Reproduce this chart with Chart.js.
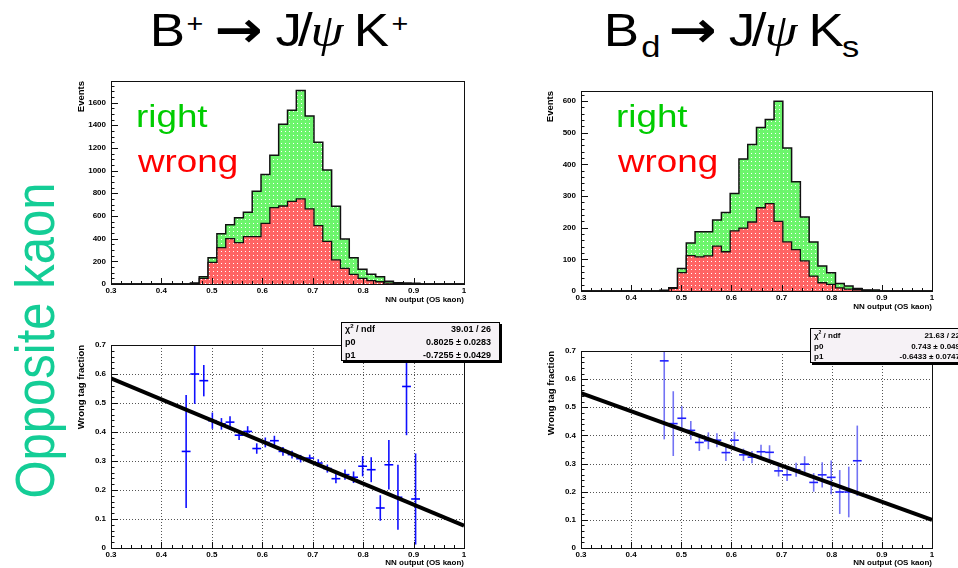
<!DOCTYPE html>
<html>
<head>
<meta charset="utf-8">
<title>Opposite kaon tagger: NN output and wrong tag fraction</title>
<script src="https://cdn.jsdelivr.net/npm/chart.js@4.4.1/dist/chart.umd.min.js"></script>
<style>
  html, body { margin: 0; padding: 0; background: #fff; }
  body { position: relative; width: 958px; height: 568px; overflow: hidden;
         font-family: "Liberation Sans", Arial, Helvetica, sans-serif; }
  canvas { position: absolute; }
  .ttl { position: absolute; top: 0; height: 70px; width: 240px;
         transform: scaleX(1.15); transform-origin: 0 0; }
  .ttl span { position: absolute; white-space: nowrap; line-height: 1; color: #000; }
  .big { font-size: 46px; }
  .sup { font-size: 25px; }
  .sub { font-size: 30px; }
  .arr { font-family: "DejaVu Sans", sans-serif; font-weight: bold; font-size: 50px; }
  .psi { font-family: "Liberation Serif", serif; font-style: italic; font-size: 46px; }
  .tag { position: absolute; font-size: 32px; line-height: 1; white-space: nowrap;
         transform: scaleX(1.15); transform-origin: 0 0; }
  .right { color: #00cc00; }
  .wrong { color: #ff0000; }
  #side { position: absolute; left: -165.4px; top: 316px; width: 400px; height: 49px;
          font-size: 49px; line-height: 1; text-align: center; white-space: nowrap;
          color: #14cd96; transform-origin: 50% 50%;
          transform: scaleX(1.15) rotate(-90deg); }
</style>
</head>
<body>

<div class="ttl" style="left:154px">
  <span class="big" style="left:-3.7px;top:7.1px">B</span>
  <span class="sup" style="left:28.3px;top:11.1px">+</span>
  <span class="arr" style="left:52.5px;top:4.7px">→</span>
  <span class="big" style="left:105.7px;top:7.1px">J</span>
  <span class="big" style="left:125.2px;top:7.1px">/</span>
  <span class="psi" style="left:136px;top:7.5px">ψ</span>
  <span class="big" style="left:173.7px;top:7.1px">K</span>
  <span class="sup" style="left:206.5px;top:11.1px">+</span>
</div>

<div class="ttl" style="left:608px">
  <span class="big" style="left:-3.7px;top:7.1px">B</span>
  <span class="sub" style="left:29px;top:31.8px">d</span>
  <span class="arr" style="left:52.5px;top:4.7px">→</span>
  <span class="big" style="left:105px;top:7.1px">J</span>
  <span class="big" style="left:125px;top:7.1px">/</span>
  <span class="psi" style="left:136px;top:7.5px">ψ</span>
  <span class="big" style="left:174.3px;top:7.1px">K</span>
  <span class="sub" style="left:203.5px;top:31.8px">s</span>
</div>

<div id="side">Opposite kaon</div>

<canvas id="histBplus" width="420" height="245" style="left:60px;top:70px"></canvas>
<canvas id="histBd" width="428" height="235" style="left:530px;top:80px"></canvas>
<canvas id="wtfBplus" width="450" height="253" style="left:60px;top:315px"></canvas>
<canvas id="wtfBd" width="428" height="253" style="left:530px;top:315px"></canvas>

<div class="tag right" style="left:135.6px;top:99.9px">right</div>
<div class="tag wrong" style="left:137.6px;top:144.9px">wrong</div>
<div class="tag right" style="left:615.6px;top:99.9px">right</div>
<div class="tag wrong" style="left:617.6px;top:144.9px">wrong</div>

<script>
// ---- NN output binning: 40 bins between 0.3 and 1.0 ----
const nnBinStart = 0.3;
const nnBinWidth = 0.0175;

// B+ -> J/psi K+ : events per NN-output bin
const bplusRight = [0, 0, 0, 0, 0, 0, 0, 0, 0,
  8, 65, 232, 444, 523, 585, 632, 818, 965, 1135, 1409, 1532, 1706, 1482, 1250, 1006,
  685, 397, 232, 130, 85, 65, 25, 12, 8, 6,
  0, 0, 0, 0, 0];
const bplusWrong = [0, 0, 0, 0, 0, 0, 0, 0, 0,
  3, 50, 190, 320, 400, 365, 418, 418, 535, 673, 688, 729, 750, 662, 515, 376,
  212, 138, 85, 50, 30, 20, 8, 4, 2, 2,
  0, 0, 0, 0, 0];

// Bd -> J/psi Ks : events per NN-output bin
const bdRight = [0, 0, 0, 0, 0, 0, 0, 0, 0,
  2, 10, 71, 152, 187, 187, 224, 248, 308, 417, 463, 517, 542, 600, 452, 345,
  234, 155, 79, 58, 24, 16, 8, 3, 3,
  0, 0, 0, 0, 0, 0];
const bdWrong = [0, 0, 0, 0, 0, 0, 0, 0, 0,
  0, 8, 58, 112, 108, 111, 142, 124, 190, 199, 218, 263, 276, 220, 155, 131,
  95, 47, 26, 21, 10, 6, 4, 2, 0,
  0, 0, 0, 0, 0, 0];

// Wrong tag fraction versus NN output
const bplusNN  = [0.449, 0.466, 0.484, 0.501, 0.519, 0.536, 0.554, 0.571, 0.589, 0.606,
  0.624, 0.641, 0.659, 0.676, 0.694, 0.711, 0.729, 0.746, 0.764, 0.781,
  0.799, 0.816, 0.834, 0.851, 0.869, 0.886, 0.904];
const bplusWTF = [0.333, 0.600, 0.577, 0.439, 0.428, 0.434, 0.389, 0.402, 0.343, 0.364,
  0.370, 0.333, 0.322, 0.308, 0.310, 0.293, 0.274, 0.239, 0.253, 0.244,
  0.282, 0.270, 0.138, 0.287, 0.175, 0.557, 0.169];
const bplusWTFErr = [0.195, 0.103, 0.054, 0.028, 0.020, 0.020, 0.017, 0.018, 0.018, 0.017,
  0.017, 0.015, 0.013, 0.013, 0.012, 0.013, 0.014, 0.016, 0.018, 0.020,
  0.035, 0.043, 0.044, 0.085, 0.112, 0.168, 0.157];

const bdNN  = [0.466, 0.484, 0.501, 0.519, 0.536, 0.554, 0.571, 0.589, 0.606, 0.624,
  0.641, 0.659, 0.676, 0.694, 0.711, 0.729, 0.746, 0.764, 0.781, 0.799,
  0.816, 0.834, 0.851];
const bdWTF = [0.665, 0.442, 0.461, 0.418, 0.375, 0.381, 0.383, 0.339, 0.383, 0.331,
  0.323, 0.342, 0.340, 0.274, 0.260, 0.278, 0.298, 0.233, 0.260, 0.251,
  0.199, 0.199, 0.310];
const bdWTFErr = [0.279, 0.115, 0.043, 0.033, 0.030, 0.030, 0.025, 0.030, 0.030, 0.022,
  0.022, 0.025, 0.025, 0.020, 0.022, 0.025, 0.028, 0.033, 0.045, 0.060,
  0.078, 0.090, 0.125];
const nnHalfBin = 0.00875;

// Straight-line fit results (p0 + p1 * x)
const bplusP0 = 0.8025, bplusP1 = -0.7255;
const bdP0 = 0.743, bdP1 = -0.6433;
const statLabels = ['χ2 / ndf', 'p0', 'p1'];
const bplusStatValues = ['39.01 / 26', '0.8025 ± 0.0283', '-0.7255 ± 0.0429'];
const bdStatValues = ['21.63 / 22', '0.743 ± 0.049', '-0.6433 ± 0.0747'];

// Axis ticks
const nnTicks = [0.3, 0.4, 0.5, 0.6, 0.7, 0.8, 0.9, 1.0];
const nnTickLabels = ['0.3', '0.4', '0.5', '0.6', '0.7', '0.8', '0.9', '1'];
const bplusEventTicks = [0, 200, 400, 600, 800, 1000, 1200, 1400, 1600];
const bdEventTicks = [0, 100, 200, 300, 400, 500, 600];
const wtfTicks = [0, 0.1, 0.2, 0.3, 0.4, 0.5, 0.6, 0.7];
const wtfTickLabels = ['0', '0.1', '0.2', '0.3', '0.4', '0.5', '0.6', '0.7'];

// ---------------------------------------------------------------
const FAMILY = '"Liberation Sans", Arial, Helvetica, sans-serif';

function histPoints(counts) {
  const pts = counts.map((c, k) => ({ x: nnBinStart + nnBinWidth * k, y: c }));
  pts.push({ x: nnBinStart + nnBinWidth * counts.length, y: counts[counts.length - 1] });
  return pts;
}

// Dotted area fill in the manner of ROOT fill styles
function dotFill(canvasId, base, dot) {
  const tile = document.createElement('canvas');
  tile.width = 4; tile.height = 4;
  const g = tile.getContext('2d');
  g.fillStyle = base; g.fillRect(0, 0, 4, 4);
  g.fillStyle = dot;
  g.fillRect(1, 1, 1, 1);
  return document.getElementById(canvasId).getContext('2d').createPattern(tile, 'repeat');
}

// Frame, inward tick marks and optional dotted grid, ROOT style
const rootFrame = {
  id: 'rootFrame',
  beforeDatasetsDraw(chart, args, o) {
    if (!o.grid) return;
    const { ctx, chartArea: a, scales: { x, y } } = chart;
    ctx.save();
    ctx.strokeStyle = '#555';
    ctx.lineWidth = 1;
    ctx.setLineDash([1, 2]);
    ctx.beginPath();
    x.ticks.forEach(t => {
      const px = Math.round(x.getPixelForValue(t.value)) + 0.5;
      if (px < a.left + 2 || px > a.right - 2) return;
      ctx.moveTo(px, a.top); ctx.lineTo(px, a.bottom);
    });
    y.ticks.forEach(t => {
      const py = Math.round(y.getPixelForValue(t.value)) + 0.5;
      if (py < a.top + 2 || py > a.bottom - 2) return;
      ctx.moveTo(a.left, py); ctx.lineTo(a.right, py);
    });
    ctx.stroke();
    ctx.restore();
  },
  afterDatasetsDraw(chart, args, o) {
    const { ctx, chartArea: a, scales: { x, y } } = chart;
    ctx.save();
    ctx.strokeStyle = '#111';
    ctx.lineWidth = 1;
    ctx.beginPath();
    // minor ticks
    const nx = Math.round((x.max - x.min) / o.xMinor);
    for (let i = 0; i <= nx; i++) {
      const px = Math.round(x.getPixelForValue(x.min + i * o.xMinor)) + 0.5;
      ctx.moveTo(px, a.bottom); ctx.lineTo(px, a.bottom - 3);
    }
    const ny = Math.floor((y.max - y.min) / o.yMinor + 1e-6);
    for (let i = 0; i <= ny; i++) {
      const py = Math.round(y.getPixelForValue(y.min + i * o.yMinor)) + 0.5;
      ctx.moveTo(a.left, py); ctx.lineTo(a.left + 3.5, py);
    }
    // major ticks
    x.ticks.forEach(t => {
      const px = Math.round(x.getPixelForValue(t.value)) + 0.5;
      ctx.moveTo(px, a.bottom); ctx.lineTo(px, a.bottom - 6);
    });
    y.ticks.forEach(t => {
      const py = Math.round(y.getPixelForValue(t.value)) + 0.5;
      ctx.moveTo(a.left, py); ctx.lineTo(a.left + 7, py);
    });
    ctx.stroke();
    ctx.strokeRect(Math.round(a.left) + 0.5, Math.round(a.top) + 0.5,
                   Math.round(a.right - a.left), Math.round(a.bottom - a.top));
    ctx.restore();
  },
  afterDraw(chart, args, o) {
    const s = o.stats;
    if (!s) return;
    const ctx = chart.ctx;
    ctx.save();
    ctx.fillStyle = '#000';
    ctx.fillRect(s.x + 2, s.y + 2, s.w, s.h);
    ctx.fillStyle = '#f6f2f6';
    ctx.fillRect(s.x, s.y, s.w, s.h);
    ctx.strokeStyle = '#000';
    ctx.lineWidth = 1;
    ctx.strokeRect(s.x + 0.5, s.y + 0.5, s.w - 1, s.h - 1);
    ctx.fillStyle = '#000';
    ctx.textBaseline = 'alphabetic';
    const f = `bold ${s.size}px ${FAMILY}`;
    s.labels.forEach((lab, i) => {
      const by = s.y + s.base + i * s.step;
      let lx = s.x + 4;
      ctx.textAlign = 'left';
      if (lab.startsWith('χ2')) {
        ctx.font = f;
        ctx.fillText('χ', lx, by);
        lx += ctx.measureText('χ').width;
        ctx.font = `bold ${Math.round(s.size * 0.65)}px ${FAMILY}`;
        ctx.fillText('2', lx, by - s.size * 0.45);
        lx += ctx.measureText('2').width;
        ctx.font = f;
        ctx.fillText(lab.slice(2), lx, by);
      } else {
        ctx.font = f;
        ctx.fillText(lab, lx, by);
      }
      ctx.textAlign = 'right';
      ctx.font = f;
      ctx.fillText(s.values[i], s.x + s.w - 9, by);
    });
    ctx.restore();
  }
};

// Horizontal (bin width) and vertical (statistical) error bars
const errorBars = {
  id: 'errorBars',
  afterDatasetDraw(chart, args, o) {
    if (args.index !== o.datasetIndex) return;
    const ds = chart.data.datasets[args.index];
    const { ctx, chartArea: a, scales: { x, y } } = chart;
    ctx.save();
    ctx.beginPath();
    ctx.rect(a.left, a.top, a.right - a.left, a.bottom - a.top);
    ctx.clip();
    ctx.lineWidth = o.width;
    ds.data.forEach((p, i) => {
      const el = args.meta.data[i];
      const x0 = x.getPixelForValue(p.x - ds.xHalf);
      const x1 = x.getPixelForValue(p.x + ds.xHalf);
      const y0 = y.getPixelForValue(p.y + ds.yErr[i]);
      const y1 = y.getPixelForValue(p.y - ds.yErr[i]);
      ctx.strokeStyle = o.vColor;
      ctx.beginPath(); ctx.moveTo(el.x, y0); ctx.lineTo(el.x, y1); ctx.stroke();
      ctx.strokeStyle = o.hColor;
      ctx.beginPath(); ctx.moveTo(x0, el.y); ctx.lineTo(x1, el.y); ctx.stroke();
    });
    ctx.restore();
  }
};

function fixedWidth(w) { return scale => { scale.width = w; }; }
function fixedHeight(h) { return scale => { scale.height = h; }; }
function setTicks(values) { return scale => { scale.ticks = values.map(v => ({ value: v })); }; }

function xAxis(height, titlePad) {
  return {
    type: 'linear', min: 0.3, max: 1.0,
    afterBuildTicks: setTicks(nnTicks),
    afterFit: fixedHeight(height),
    grid: { display: false, drawTicks: false },
    border: { display: false },
    ticks: { autoSkip: false, maxRotation: 0, padding: 2, color: '#000',
             font: { family: FAMILY, size: 8, weight: 'bold' },
             callback: (v, i) => nnTickLabels[i] },
    title: { display: true, text: 'NN output (OS kaon)', align: 'end', color: '#000',
             padding: { top: 0, bottom: titlePad },
             font: { family: FAMILY, size: 8, weight: 'bold' } }
  };
}

function yAxis(max, ticks, labels, title, titlePad) {
  return {
    type: 'linear', min: 0, max: max,
    afterBuildTicks: setTicks(ticks),
    afterFit: fixedWidth(51),
    grid: { display: false, drawTicks: false },
    border: { display: false },
    ticks: { autoSkip: false, padding: 5, color: '#000',
             font: { family: FAMILY, size: 8, weight: 'bold' },
             callback: (v, i) => labels[i] },
    title: { display: true, text: title, align: 'end', color: '#000',
             padding: { top: titlePad, bottom: 0 },
             font: { family: FAMILY, size: 9.5, weight: 'bold' } }
  };
}

const common = {
  responsive: false, animation: false, devicePixelRatio: 1, events: []
};

function histChart(id, right, wrong, yMax, yTicks, yMinor, pad, xHeight, xTitlePad, yTitlePad) {
  return new Chart(document.getElementById(id), {
    type: 'line',
    data: {
      datasets: [
        { label: 'wrong', data: histPoints(wrong), stepped: 'before', fill: 'origin',
          backgroundColor: dotFill(id, '#ff6464', '#ffffff'),
          borderColor: '#111', borderWidth: 1.3, pointRadius: 0 },
        { label: 'right', data: histPoints(right), stepped: 'before', fill: 'origin',
          backgroundColor: dotFill(id, '#6cf56c', '#ffffff'),
          borderColor: '#111', borderWidth: 1.5, pointRadius: 0 }
      ]
    },
    options: Object.assign({}, common, {
      layout: { padding: pad },
      scales: {
        x: xAxis(xHeight, xTitlePad),
        y: yAxis(yMax, yTicks, yTicks.map(String), 'Events', yTitlePad)
      },
      plugins: {
        legend: { display: false }, tooltip: { enabled: false },
        rootFrame: { grid: false, xMinor: 0.02, yMinor: yMinor },
        errorBars: { datasetIndex: -1 }
      }
    }),
    plugins: [rootFrame, errorBars]
  });
}

function wtfChart(id, nn, wtf, err, p0, p1, stats, pad, yTitlePad, colors) {
  return new Chart(document.getElementById(id), {
    type: 'line',
    data: {
      datasets: [
        { label: 'fit', data: [0.3, 1.0].map(v => ({ x: v, y: p0 + p1 * v })),
          borderColor: '#000', borderWidth: 4, pointRadius: 0, fill: false },
        { label: 'wrong tag fraction', data: nn.map((v, i) => ({ x: v, y: wtf[i] })),
          yErr: err, xHalf: nnHalfBin, showLine: false, pointRadius: 0 }
      ]
    },
    options: Object.assign({}, common, {
      layout: { padding: pad },
      scales: {
        x: xAxis(20, 0),
        y: yAxis(0.7, wtfTicks, wtfTickLabels, 'Wrong tag fraction', yTitlePad)
      },
      plugins: {
        legend: { display: false }, tooltip: { enabled: false },
        rootFrame: { grid: true, xMinor: 0.02, yMinor: 0.02, stats: stats },
        errorBars: { datasetIndex: 1, width: 1.6, vColor: colors[0], hColor: colors[1] }
      }
    }),
    plugins: [rootFrame, errorBars]
  });
}

histChart('histBplus', bplusRight, bplusWrong, 1790, bplusEventTicks, 50,
          { left: 0, top: 11, right: 16, bottom: 0 }, 31, 10.2, 15.3);
histChart('histBd', bdRight, bdWrong, 632, bdEventTicks, 20,
          { left: 0, top: 11, right: 26, bottom: 0 }, 24, 3.7, 14.3);

wtfChart('wtfBplus', bplusNN, bplusWTF, bplusWTFErr, bplusP0, bplusP1,
         { x: 281, y: 7, w: 159, h: 39, size: 9, base: 10, step: 13,
           labels: statLabels, values: bplusStatValues },
         { left: 0, top: 30, right: 46, bottom: 0 }, 15.3, ['#1010ff', '#0000ff']);
wtfChart('wtfBd', bdNN, bdWTF, bdWTFErr, bdP0, bdP1,
         { x: 280, y: 13, w: 159, h: 35, size: 8, base: 10, step: 10.5,
           labels: statLabels, values: bdStatValues },
         { left: 0, top: 36, right: 26, bottom: 0 }, 15.3, ['#7373f4', '#2020ff']);
</script>
</body>
</html>
